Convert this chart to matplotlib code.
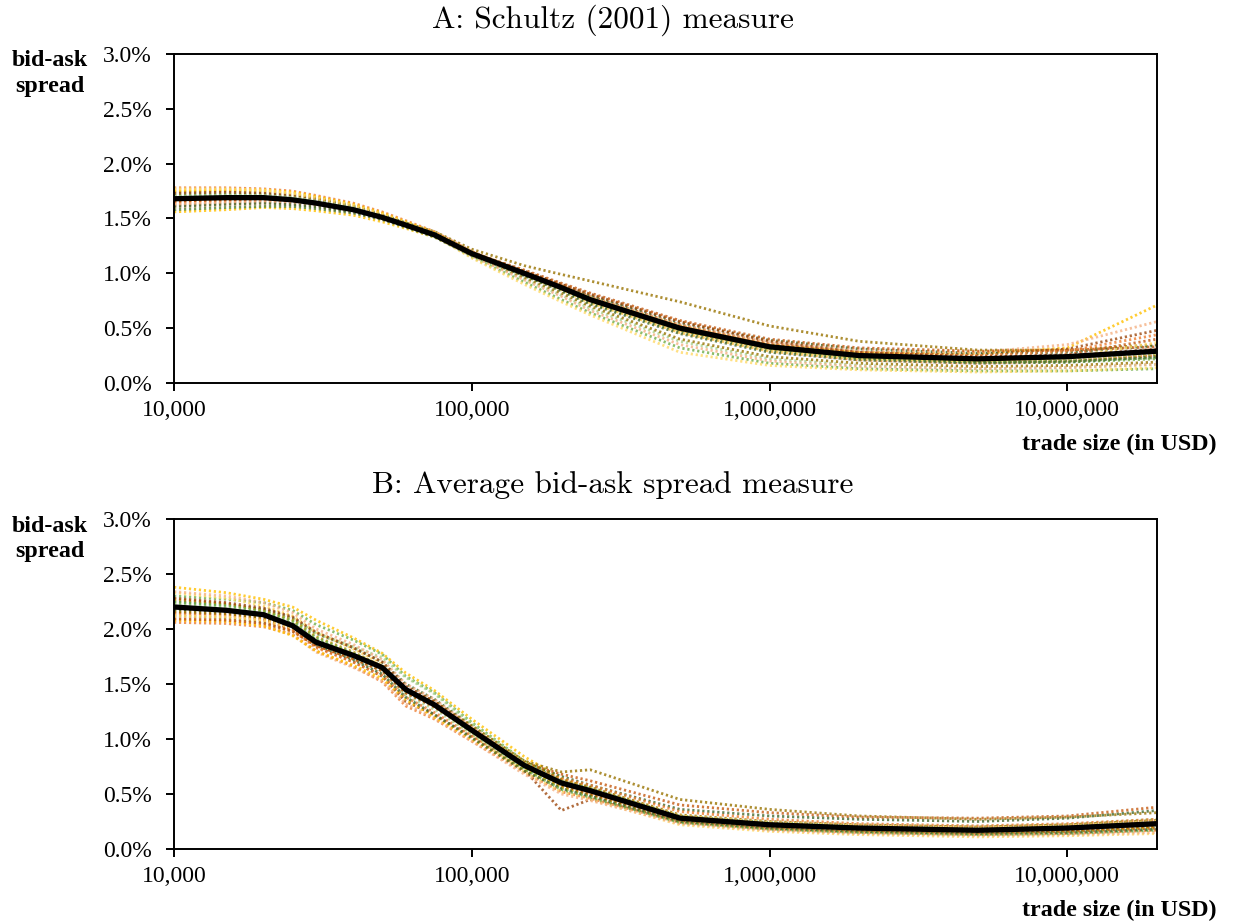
import numpy as np
import matplotlib
matplotlib.use("Agg")
import matplotlib.pyplot as plt
from matplotlib.ticker import FixedLocator, FuncFormatter

# tamaños de operación (USD)
trade_size = [10000, 15000, 20000, 25000, 30000, 40000, 50000, 60000, 75000, 100000,
              150000, 200000, 250000, 500000, 1000000, 2000000, 5000000, 10000000, 20000000]

# panel A: medida de Schultz (2001), en %
schultz_mean = [1.68, 1.69, 1.69, 1.67, 1.64, 1.58, 1.51, 1.44, 1.35, 1.18,
                1.00, 0.87, 0.76, 0.50, 0.33, 0.25, 0.22, 0.24, 0.29]
schultz_bonds = [
    [1.56, 1.58, 1.60, 1.59, 1.57, 1.53, 1.47, 1.41, 1.33, 1.17, 1.00, 0.88, 0.78, 0.52, 0.35, 0.28, 0.27, 0.32, 0.71],
    [1.78, 1.78, 1.77, 1.75, 1.71, 1.64, 1.56, 1.48, 1.38, 1.20, 1.00, 0.86, 0.74, 0.46, 0.29, 0.21, 0.18, 0.20, 0.25],
    [1.74, 1.75, 1.74, 1.72, 1.69, 1.62, 1.54, 1.46, 1.35, 1.15, 0.92, 0.76, 0.64, 0.32, 0.18, 0.13, 0.11, 0.11, 0.13],
    [1.66, 1.67, 1.67, 1.66, 1.63, 1.58, 1.52, 1.46, 1.38, 1.22, 1.07, 0.99, 0.93, 0.74, 0.52, 0.38, 0.30, 0.30, 0.35],
    [1.62, 1.64, 1.65, 1.64, 1.62, 1.57, 1.50, 1.43, 1.34, 1.17, 1.00, 0.89, 0.79, 0.53, 0.36, 0.28, 0.26, 0.31, 0.48],
    [1.70, 1.71, 1.71, 1.69, 1.66, 1.60, 1.53, 1.46, 1.36, 1.19, 1.02, 0.90, 0.80, 0.55, 0.39, 0.31, 0.27, 0.28, 0.34],
    [1.76, 1.76, 1.75, 1.72, 1.68, 1.61, 1.53, 1.45, 1.34, 1.14, 0.90, 0.74, 0.62, 0.28, 0.16, 0.12, 0.10, 0.11, 0.14],
    [1.60, 1.62, 1.63, 1.62, 1.60, 1.55, 1.49, 1.43, 1.34, 1.18, 1.01, 0.89, 0.78, 0.53, 0.37, 0.30, 0.28, 0.35, 0.56],
    [1.72, 1.73, 1.72, 1.70, 1.67, 1.60, 1.52, 1.44, 1.34, 1.16, 0.95, 0.80, 0.68, 0.38, 0.22, 0.16, 0.13, 0.14, 0.17],
    [1.65, 1.67, 1.68, 1.67, 1.64, 1.59, 1.52, 1.45, 1.36, 1.19, 1.01, 0.88, 0.77, 0.51, 0.34, 0.26, 0.23, 0.26, 0.40],
    [1.69, 1.70, 1.70, 1.68, 1.65, 1.59, 1.51, 1.44, 1.35, 1.18, 0.99, 0.86, 0.75, 0.48, 0.31, 0.23, 0.20, 0.21, 0.26],
    [1.58, 1.60, 1.61, 1.61, 1.59, 1.55, 1.49, 1.42, 1.33, 1.16, 0.98, 0.85, 0.73, 0.47, 0.30, 0.22, 0.19, 0.20, 0.23],
    [1.75, 1.76, 1.76, 1.74, 1.70, 1.63, 1.55, 1.47, 1.37, 1.19, 1.01, 0.88, 0.77, 0.50, 0.32, 0.24, 0.21, 0.23, 0.30],
    [1.64, 1.66, 1.67, 1.66, 1.63, 1.58, 1.51, 1.44, 1.35, 1.18, 1.00, 0.87, 0.76, 0.52, 0.35, 0.27, 0.25, 0.29, 0.44],
    [1.71, 1.72, 1.72, 1.70, 1.67, 1.61, 1.53, 1.46, 1.36, 1.18, 0.99, 0.86, 0.76, 0.50, 0.32, 0.23, 0.19, 0.19, 0.22],
    [1.67, 1.68, 1.68, 1.67, 1.64, 1.58, 1.51, 1.44, 1.35, 1.17, 0.96, 0.82, 0.70, 0.40, 0.24, 0.18, 0.15, 0.16, 0.19],
    [1.73, 1.74, 1.73, 1.71, 1.68, 1.61, 1.53, 1.45, 1.36, 1.19, 1.02, 0.90, 0.81, 0.56, 0.38, 0.28, 0.24, 0.25, 0.31],
    [1.61, 1.63, 1.64, 1.63, 1.61, 1.56, 1.50, 1.43, 1.34, 1.17, 0.98, 0.84, 0.72, 0.45, 0.28, 0.21, 0.18, 0.19, 0.24],
    [1.77, 1.77, 1.76, 1.73, 1.69, 1.62, 1.54, 1.46, 1.36, 1.18, 0.99, 0.85, 0.73, 0.46, 0.29, 0.22, 0.20, 0.23, 0.37],
    [1.63, 1.65, 1.66, 1.65, 1.63, 1.57, 1.51, 1.44, 1.34, 1.16, 0.94, 0.79, 0.66, 0.35, 0.20, 0.15, 0.13, 0.14, 0.17],
    [1.70, 1.71, 1.71, 1.69, 1.66, 1.60, 1.52, 1.45, 1.36, 1.18, 1.00, 0.87, 0.77, 0.51, 0.34, 0.26, 0.22, 0.22, 0.27],
    [1.66, 1.67, 1.68, 1.66, 1.64, 1.58, 1.51, 1.44, 1.35, 1.19, 1.03, 0.91, 0.82, 0.57, 0.40, 0.32, 0.29, 0.30, 0.33],
]

# panel B: spread bid-ask promedio, en %
avg_mean = [2.20, 2.17, 2.13, 2.03, 1.88, 1.76, 1.65, 1.45, 1.31, 1.08,
            0.76, 0.60, 0.53, 0.28, 0.22, 0.19, 0.17, 0.19, 0.23]
avg_bonds = [
    [2.38, 2.33, 2.27, 2.20, 2.08, 1.92, 1.78, 1.60, 1.44, 1.18, 0.84, 0.64, 0.55, 0.30, 0.22, 0.19, 0.17, 0.19, 0.22],
    [2.06, 2.05, 2.02, 1.95, 1.80, 1.66, 1.52, 1.30, 1.18, 0.98, 0.70, 0.52, 0.46, 0.24, 0.18, 0.15, 0.13, 0.14, 0.17],
    [2.30, 2.27, 2.24, 2.17, 2.04, 1.90, 1.77, 1.57, 1.42, 1.15, 0.80, 0.62, 0.55, 0.30, 0.24, 0.21, 0.20, 0.22, 0.27],
    [2.12, 2.10, 2.06, 1.98, 1.85, 1.73, 1.62, 1.42, 1.30, 1.08, 0.80, 0.70, 0.72, 0.45, 0.36, 0.30, 0.27, 0.29, 0.33],
    [2.15, 2.13, 2.09, 2.00, 1.84, 1.70, 1.57, 1.34, 1.22, 1.02, 0.72, 0.35, 0.45, 0.26, 0.20, 0.17, 0.15, 0.16, 0.19],
    [2.25, 2.22, 2.18, 2.10, 1.96, 1.83, 1.70, 1.50, 1.36, 1.12, 0.79, 0.66, 0.58, 0.36, 0.30, 0.27, 0.25, 0.28, 0.35],
    [2.33, 2.28, 2.21, 2.12, 1.97, 1.82, 1.68, 1.45, 1.30, 1.04, 0.70, 0.52, 0.45, 0.22, 0.16, 0.13, 0.11, 0.12, 0.14],
    [2.10, 2.08, 2.04, 1.95, 1.79, 1.65, 1.53, 1.32, 1.19, 0.98, 0.68, 0.50, 0.44, 0.23, 0.17, 0.14, 0.12, 0.13, 0.15],
    [2.22, 2.20, 2.16, 2.09, 1.96, 1.84, 1.74, 1.56, 1.41, 1.14, 0.79, 0.60, 0.52, 0.27, 0.21, 0.18, 0.16, 0.18, 0.21],
    [2.18, 2.15, 2.11, 2.03, 1.89, 1.77, 1.66, 1.46, 1.33, 1.10, 0.78, 0.68, 0.62, 0.40, 0.33, 0.29, 0.28, 0.30, 0.38],
    [2.27, 2.23, 2.17, 2.08, 1.93, 1.79, 1.66, 1.44, 1.31, 1.07, 0.74, 0.56, 0.49, 0.25, 0.19, 0.16, 0.14, 0.16, 0.20],
    [2.20, 2.18, 2.13, 2.05, 1.90, 1.77, 1.65, 1.44, 1.31, 1.09, 0.77, 0.60, 0.52, 0.29, 0.23, 0.20, 0.18, 0.20, 0.24],
    [2.08, 2.07, 2.03, 1.94, 1.80, 1.67, 1.55, 1.36, 1.20, 1.00, 0.72, 0.57, 0.50, 0.26, 0.20, 0.17, 0.15, 0.17, 0.20],
    [2.14, 2.12, 2.08, 1.99, 1.83, 1.70, 1.58, 1.38, 1.24, 1.03, 0.76, 0.64, 0.58, 0.34, 0.27, 0.23, 0.21, 0.23, 0.27],
    [2.24, 2.21, 2.16, 2.07, 1.92, 1.78, 1.66, 1.43, 1.30, 1.06, 0.73, 0.54, 0.47, 0.24, 0.18, 0.15, 0.13, 0.14, 0.17],
    [2.16, 2.14, 2.10, 2.02, 1.88, 1.76, 1.66, 1.46, 1.34, 1.12, 0.80, 0.63, 0.56, 0.31, 0.25, 0.22, 0.20, 0.22, 0.26],
    [2.28, 2.24, 2.19, 2.11, 1.97, 1.83, 1.70, 1.48, 1.34, 1.10, 0.76, 0.58, 0.50, 0.26, 0.20, 0.17, 0.15, 0.17, 0.21],
    [2.18, 2.16, 2.12, 2.02, 1.86, 1.72, 1.59, 1.38, 1.22, 1.01, 0.71, 0.55, 0.48, 0.25, 0.19, 0.16, 0.14, 0.15, 0.18],
    [2.12, 2.11, 2.08, 2.01, 1.88, 1.76, 1.65, 1.45, 1.32, 1.10, 0.78, 0.61, 0.54, 0.30, 0.24, 0.21, 0.19, 0.21, 0.25],
    [2.34, 2.30, 2.24, 2.15, 2.00, 1.86, 1.72, 1.50, 1.36, 1.11, 0.77, 0.59, 0.51, 0.27, 0.21, 0.18, 0.16, 0.18, 0.22],
    [2.22, 2.19, 2.14, 2.04, 1.88, 1.75, 1.62, 1.40, 1.27, 1.05, 0.74, 0.59, 0.52, 0.28, 0.22, 0.19, 0.17, 0.19, 0.23],
    [2.09, 2.08, 2.05, 1.98, 1.85, 1.73, 1.62, 1.42, 1.29, 1.07, 0.76, 0.60, 0.53, 0.29, 0.23, 0.20, 0.18, 0.20, 0.24],
]

# colores tipo Excel para los bonos individuales
colores = ['#FFC000', '#ED7D31', '#70AD47', '#997300', '#9E480E', '#43682B',
           '#FFD966', '#F4B183', '#A9D18E', '#C55A11', '#BF9000', '#548235']

x_ticks = [1e4, 1e5, 1e6, 1e7]
x_labels = ['10,000', '100,000', '1,000,000', '10,000,000']
y_ticks = [0.0, 0.5, 1.0, 1.5, 2.0, 2.5, 3.0]

plt.rcParams['font.family'] = ['Liberation Serif', 'DejaVu Serif']

fig = plt.figure(figsize=(12.34, 9.24), dpi=100)
ax1 = fig.add_axes([0.141, 0.5855, 0.7966, 0.3561])
ax2 = fig.add_axes([0.141, 0.0812, 0.7966, 0.3571])

# (eje, bonos, media, título, y del título, y de etiqueta y, y de etiqueta x)
paneles = [
    (ax1, schultz_bonds, schultz_mean, 'A: Schultz (2001) measure', 0.9697, 0.9205, 0.5195),
    (ax2, avg_bonds, avg_mean, 'B: Average bid-ask spread measure', 0.4665, 0.4167, 0.0152),
]

for ax, bonos, media, titulo, ytit, ylab, xlab in paneles:
    for i, serie in enumerate(bonos):
        ax.plot(trade_size, serie, color=colores[i % len(colores)], lw=2.0,
                ls=(0, (0.8, 1.0)), alpha=0.8, zorder=2)
    ax.plot(trade_size, media, color='black', lw=3.8, zorder=3)

    ax.set_xscale('log')
    ax.set_xlim(1e4, 2e7)
    ax.set_ylim(0, 3.0)
    ax.xaxis.set_major_locator(FixedLocator(x_ticks))
    ax.xaxis.set_minor_locator(FixedLocator([]))
    ax.set_xticklabels(x_labels)
    ax.yaxis.set_major_locator(FixedLocator(y_ticks))
    ax.yaxis.set_major_formatter(FuncFormatter(lambda v, p: '%.1f%%' % v))
    ax.tick_params(axis='both', direction='out', length=6, width=1.4,
                   labelsize=17, colors='black')
    ax.tick_params(axis='y', pad=10)
    ax.tick_params(axis='x', pad=6)
    for s in ax.spines.values():
        s.set_linewidth(1.4)

    fig.text(0.4964, ytit, titulo, family='cmr10', fontsize=22.5,
             ha='center', va='baseline')
    fig.text(0.0405, ylab, 'bid-ask\nspread', fontsize=17.3, fontweight='bold',
             ha='center', va='center', linespacing=1.3)
    fig.text(0.9862, xlab, 'trade size (in USD)', fontsize=17.3, fontweight='bold',
             ha='right', va='center')

fig.savefig('out.png', dpi=100)
